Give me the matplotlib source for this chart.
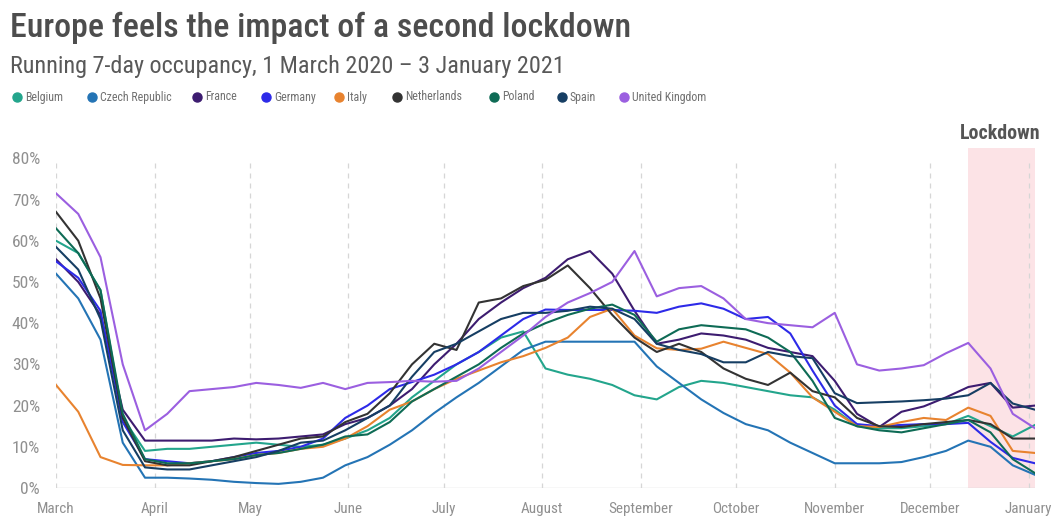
import numpy as np
import matplotlib
matplotlib.use("Agg")
import matplotlib.pyplot as plt
import matplotlib.dates as mdates
import matplotlib.transforms as mtransforms
from matplotlib.lines import Line2D
from matplotlib import font_manager

# ---------------------------------------------------------------- data
countries = ["Belgium", "Czech Republic", "France", "Germany", "Italy",
             "Netherlands", "Poland", "Spain", "United Kingdom"]
colors = ["#23a58c", "#2474b5", "#3d1c70", "#2d2ae8", "#e8832f",
          "#333333", "#0e6b55", "#163e63", "#9b5fe0"]

# weekly sample dates, 1 March 2020 -> 3 January 2021
dates = np.arange(np.datetime64("2020-03-01"), np.datetime64("2021-01-04"),
                  np.timedelta64(7, "D"))

belgium = [60, 57, 48, 17, 9, 9.5, 9.5, 10, 10.5, 11, 10.5, 10, 10.5, 12, 14,
           17, 22, 26, 30, 33, 36.5, 38, 29, 27.5, 26.5, 25, 22.5, 21.5, 24.5, 26,
           25.5, 24.5, 23.5, 22.5, 22, 19, 15, 14.5, 14.5, 15, 15.5, 17.5, 15, 12.5, 15.3]
czech = [52, 46, 36, 11, 2.5, 2.5, 2.3, 2, 1.5, 1.2, 1, 1.5, 2.5, 5.5, 7.5,
         10.5, 14, 18.2, 22, 25.5, 29.5, 33.5, 35.5, 35.5, 35.5, 35.5, 35.5, 29.5, 25.5, 21.5,
         18.2, 15.5, 14, 11, 8.5, 6, 6, 6, 6.3, 7.5, 9, 11.5, 10, 5.5, 3.2]
france = [55.5, 50, 42, 19, 11.5, 11.5, 11.5, 11.5, 12, 11.8, 12, 12.5, 13, 15.5, 17,
          20, 24, 30, 35, 41, 45, 48.5, 51, 55.5, 57.5, 52, 43, 35, 36, 37.5,
          37, 36, 34, 33, 32, 26, 18, 14.8, 18.5, 19.8, 22, 24.5, 25.5, 19.5, 20]
germany = [55, 51, 43, 16, 7, 6.5, 6, 6.5, 7.5, 8.5, 9, 10, 12, 17, 20,
           24, 25.7, 27.5, 30, 33, 37, 41, 43.3, 43.2, 43.2, 43.2, 43, 42.5, 44, 44.8,
           43.5, 41, 41.5, 37.5, 28.5, 20, 15.5, 15, 15.3, 15.5, 15.5, 15.8, 11.2, 7.3, 6]
italy = [25, 18.5, 7.5, 5.6, 5.5, 5.5, 6, 6.5, 7, 8, 8.5, 9.5, 10, 12, 15,
         19, 21, 24, 26.5, 28.5, 30.5, 32, 34, 36.5, 41.5, 43.5, 37, 33.9, 33.5, 33.8,
         35.5, 34, 32.5, 28, 22, 18.5, 15, 14.8, 16, 17, 16.5, 19.5, 17.5, 9, 8.5]
netherlands = [67, 60, 46, 17, 6.5, 5.5, 5.5, 6.5, 7.5, 9, 10.5, 12, 12.5, 16, 18,
               23, 30, 35, 33.5, 45, 46, 49, 50.5, 54, 48.5, 42, 36.5, 33, 35, 33,
               29, 26.5, 25, 28, 23.5, 22, 17, 15, 14.8, 15.5, 16, 16.5, 15.5, 12, 12]
poland = [63, 57, 48, 18, 7, 6, 6, 6.5, 7, 8, 8.5, 9.5, 10.5, 12.5, 13,
          16, 21, 24, 27, 30, 34, 37.5, 40, 42, 43.5, 44.5, 42, 35.5, 38.5, 39.5,
          39, 38.5, 36.5, 33, 26, 17, 15, 14, 13.5, 14.5, 15.5, 16.5, 13.5, 7, 3.6]
spain = [58.5, 53, 41, 14, 5, 4.5, 4.5, 5.5, 6.5, 7.5, 9, 11, 11.5, 14, 17,
         20, 27, 33, 35, 38, 41, 42.5, 42.5, 43, 44, 43.5, 41, 35, 33.5, 32.5,
         30.5, 30.5, 33, 32, 31.5, 23, 20.6, 20.8, 21, 21.3, 21.7, 22.5, 25.5, 20.5, 19]
uk = [71.5, 66.5, 56, 30, 14, 18, 23.5, 24, 24.5, 25.5, 25, 24.3, 25.5, 24, 25.5,
      25.7, 26, 25.8, 26, 29, 33, 37, 41.5, 45, 47.3, 50, 57.5, 46.5, 48.5, 49,
      46, 41, 40, 39.5, 39, 42.5, 30, 28.5, 29, 29.8, 32.7, 35.2, 29, 18, 14.5]

series = [belgium, czech, france, germany, italy, netherlands, poland, spain, uk]

lockdown_start = np.datetime64("2020-12-13")
lockdown_end = np.datetime64("2021-01-03")

yticks = [0, 10, 20, 30, 40, 50, 60, 70, 80]

# ---------------------------------------------------------------- fonts
available = {f.name for f in font_manager.fontManager.ttflist}


def pick(*names):
    for n in names:
        if n in available:
            return n
    return "DejaVu Sans"


COND = pick("Roboto Condensed", "Liberation Sans Narrow", "Open Sans Condensed",
            "Roboto", "Liberation Sans", "DejaVu Sans")
plt.rcParams["font.family"] = [COND, "DejaVu Sans"]

# ---------------------------------------------------------------- figure
W, H = 1052, 520
fig = plt.figure(figsize=(W / 100, H / 100), dpi=100)
fig.patch.set_facecolor("white")


def px(x, y):
    """pixel position (from top-left) -> figure fraction"""
    return x / W, 1 - y / H


ax_left, ax_right, ax_top, ax_bottom = 56, 1035, 148, 488
ax = fig.add_axes([ax_left / W, 1 - ax_bottom / H,
                   (ax_right - ax_left) / W, (ax_bottom - ax_top) / H])

x_start = np.datetime64("2020-03-01")
x_end = np.datetime64("2021-01-03")
ax.set_xlim(x_start, x_end)
ax.set_ylim(0, 82.5)

# lockdown band
ax.axvspan(lockdown_start, lockdown_end, ymin=0, ymax=1, color="#fce3e6",
           lw=0, zorder=0)

# monthly dashed guides and baseline
months = np.arange(np.datetime64("2020-03"), np.datetime64("2021-02"),
                   np.timedelta64(1, "M")).astype("datetime64[D]")
ax.vlines(months, 0, 80, colors="#d6d6d6", linestyles=(0, (4, 4)), lw=0.9,
          zorder=1)
ax.axhline(0, color="#d8d8d8", lw=1.0, zorder=1)

for vals, c in zip(series, colors):
    ax.plot(dates, vals, color=c, lw=1.5, zorder=3, solid_joinstyle="round")

for s in ax.spines.values():
    s.set_visible(False)
ax.tick_params(length=0)
ax.set_yticks(yticks)
ax.set_yticklabels([f"{v}%" for v in yticks])
ax.xaxis.set_major_locator(mdates.MonthLocator())
ax.xaxis.set_major_formatter(mdates.DateFormatter("%B"))
ax.tick_params(axis="y", pad=11.5, labelcolor="#909090")
ax.tick_params(axis="x", pad=10, labelcolor="#909090")

# lockdown label
trans = mtransforms.blended_transform_factory(ax.transData, ax.transAxes)
mid = lockdown_start + (lockdown_end - lockdown_start) / 2
lock_txt = ax.text(mid, 1.015, "Lockdown", transform=trans, ha="center",
                   va="bottom", color="#555555", fontsize=13, fontweight="bold")

# titles
title = fig.text(*px(10, 12), "Europe feels the impact of a second lockdown",
                 ha="left", va="top", color="#4d4d4d", fontsize=25,
                 fontweight="medium")
subtitle = fig.text(*px(10, 55),
                    "Running 7-day occupancy, 1 March 2020 \u2013 3 January 2021",
                    ha="left", va="top", color="#595959", fontsize=17)

# legend row
legend_x = [17, 92, 197, 266, 339, 397, 494, 562, 624]
legend_y = 97
legend_texts = []
for name, c, lx in zip(countries, colors, legend_x):
    fig.add_artist(Line2D([lx / W], [1 - legend_y / H], marker="o", ms=6.5,
                          color=c, transform=fig.transFigure, lw=0))
    legend_texts.append(fig.text((lx + 8) / W, 1 - legend_y / H, name,
                                 ha="left", va="center", color="#707070",
                                 fontsize=7))

# scale text so that widths follow the intended layout
fig.canvas.draw()
r = fig.canvas.get_renderer()


def fit(txt, width_px):
    w = txt.get_window_extent(r).width
    txt.set_fontsize(txt.get_fontsize() * width_px / w)


fit(title, 622)
fit(subtitle, 553)
fit(lock_txt, 80)
fit(legend_texts[-1], 75)
for t in legend_texts[:-1]:
    t.set_fontsize(legend_texts[-1].get_fontsize())

xl = ax.get_xticklabels()
sep = [t for t in xl if t.get_text() == "September"]
if sep:
    w = sep[0].get_window_extent(r).width
    fs = sep[0].get_fontsize() * 64 / w
    ax.tick_params(axis="x", labelsize=fs)
yl = [t for t in ax.get_yticklabels() if t.get_text() == "80%"]
if yl:
    w = yl[0].get_window_extent(r).width
    fs = yl[0].get_fontsize() * 28 / w
    ax.tick_params(axis="y", labelsize=fs)

fig.savefig("out.png", dpi=100, facecolor="white")
